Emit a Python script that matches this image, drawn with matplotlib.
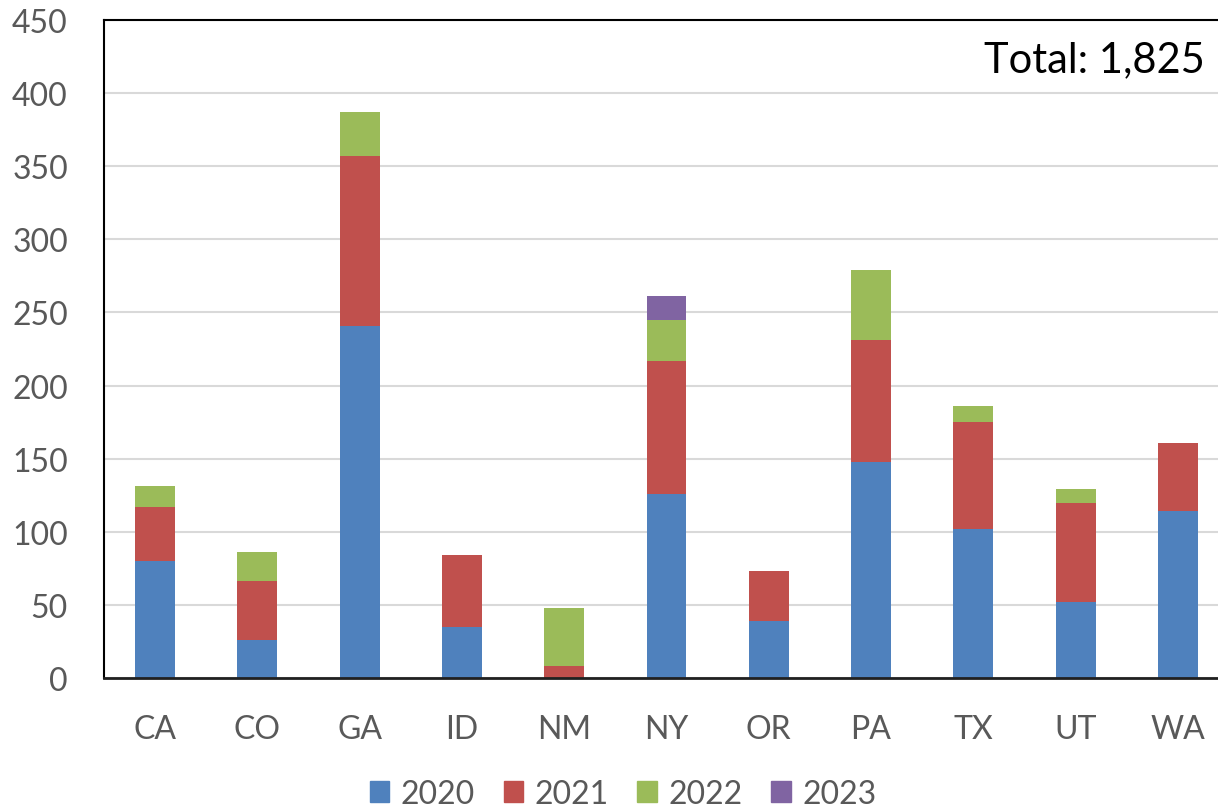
import matplotlib
matplotlib.use("Agg")
import matplotlib.pyplot as plt
import numpy as np

states = ["CA", "CO", "GA", "ID", "NM", "NY", "OR", "PA", "TX", "UT", "WA"]
years = ["2020", "2021", "2022", "2023"]
v2020 = [80, 26, 241, 35, 0, 126, 39, 148, 102, 52, 114]
v2021 = [37, 40, 116, 49, 8, 91, 34, 83, 73, 68, 47]
v2022 = [14, 20, 30, 0, 40, 28, 0, 48, 11, 9, 0]
v2023 = [0, 0, 0, 0, 0, 16, 0, 0, 0, 0, 0]
colors = ["#4F81BD", "#C0504D", "#9BBB59", "#8064A2"]

plt.rcParams["font.family"] = ["Lato", "DejaVu Sans"]

fig = plt.figure(figsize=(12.18, 8.12), dpi=100)
# plot area runs slightly past the right edge of the canvas
ax_left, ax_width = 104, 1125
ax = fig.add_axes([ax_left / 1218, 133 / 812, ax_width / 1218, 658 / 812])

x = np.arange(len(states))
bottom = np.zeros(len(states))
series = [v2020, v2021, v2022, v2023]
for label, vals, c in zip(years, series, colors):
    vals = np.array(vals, dtype=float)
    ax.bar(x, vals, width=0.39, bottom=bottom, color=c, label=label, zorder=3)
    bottom += vals

total = int(bottom.sum())

ax.set_xlim(-0.5, len(states) - 0.5)
ax.set_ylim(0, 450)
ax.set_yticks(np.arange(0, 451, 50))
ax.set_xticks(x)
ax.set_xticklabels(states)
ax.tick_params(axis="both", length=0, labelsize=23, colors="#595959")
ax.tick_params(axis="x", pad=26)
ax.tick_params(axis="y", pad=26)
ax.yaxis.grid(True, color="#D9D9D9", linewidth=1.5, zorder=0)
ax.set_axisbelow(True)

for side in ["left", "top"]:
    ax.spines[side].set_color("black")
    ax.spines[side].set_linewidth(1.5)
ax.spines["right"].set_visible(False)
ax.spines["bottom"].set_color("#202020")
ax.spines["bottom"].set_linewidth(2)
ax.spines["bottom"].set_zorder(4)

# total annotation, right-aligned just inside the visible canvas
ax.text((1205 - ax_left) / ax_width, 0.94, f"Total: {total:,}",
        transform=ax.transAxes, ha="right", va="center", fontsize=30, color="black")

handles = [plt.Rectangle((0, 0), 1, 1, color=c) for c in colors]
fig.legend(handles, years, loc="center", bbox_to_anchor=(623 / 1218, 1 - 795 / 812),
           ncol=4, frameon=False, fontsize=23, labelcolor="#595959",
           handlelength=0.62, handleheight=0.62, handletextpad=0.35, columnspacing=0.9,
           borderpad=0.2)

fig.savefig("out.png", dpi=100)
